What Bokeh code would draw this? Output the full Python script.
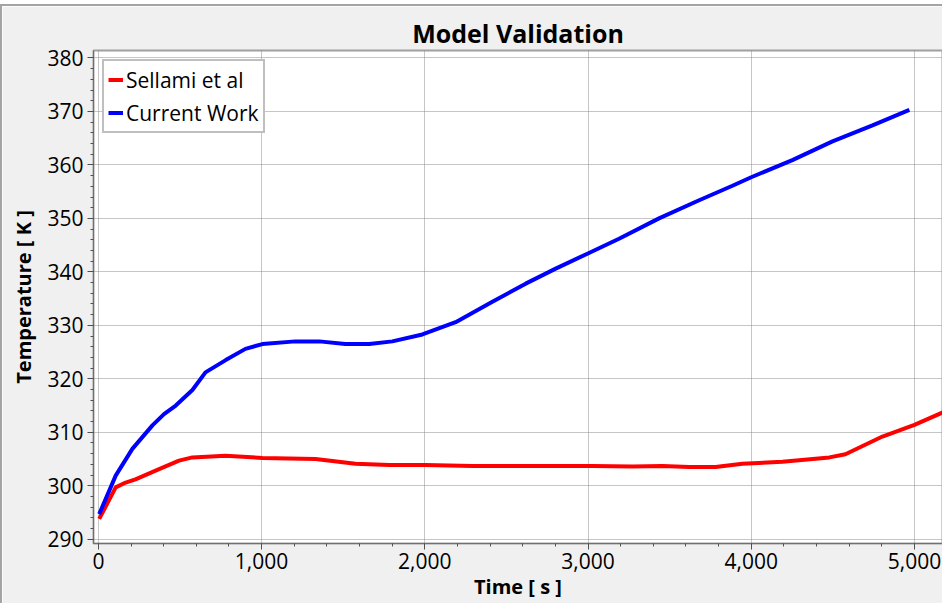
from bokeh.plotting import figure
from bokeh.models import Range1d, FixedTicker, NumeralTickFormatter, Legend, LegendItem, Spacer
from bokeh.layouts import column
from bokeh.embed import file_html
from bokeh.resources import INLINE

# ---- data ----
time_sellami = [5, 106, 167, 227, 372, 494, 576, 778, 1005, 1330, 1575, 1783, 2003, 2292,
                2700, 3027, 3272, 3456, 3620, 3781, 3946, 4191, 4479, 4577, 4804, 5000, 5180]
temp_sellami = [293.8, 299.7, 300.6, 301.2, 303.1, 304.7, 305.3, 305.6, 305.2, 305.0, 304.1,
                303.9, 303.9, 303.7, 303.7, 303.7, 303.6, 303.7, 303.5, 303.5, 304.1, 304.5,
                305.3, 305.9, 309.2, 311.4, 313.8]

time_current = [5, 106, 208, 331, 402, 474, 576, 656, 780, 901, 1005, 1207, 1354, 1513, 1660,
                1801, 1985, 2189, 2414, 2618, 2802, 2996, 3190, 3435, 3681, 3885, 4000, 4252,
                4498, 4743, 4969]
temp_current = [294.7, 301.9, 306.9, 311.3, 313.4, 315.0, 317.9, 321.2, 323.5, 325.6, 326.5,
                327.0, 327.0, 326.5, 326.5, 327.0, 328.3, 330.6, 334.4, 337.8, 340.6, 343.4,
                346.2, 350.0, 353.4, 356.1, 357.7, 360.9, 364.4, 367.4, 370.3]

x_ticks = [0, 1000, 2000, 3000, 4000, 5000]
x_minor = [v for v in range(-200, 5400, 200)]
y_ticks = [290, 300, 310, 320, 330, 340, 350, 360, 370, 380]
y_minor = [v for v in range(288, 384, 2)]

FONT = "Open Sans"

p = figure(width=942, height=599, output_backend="svg", toolbar_location=None,
           x_range=Range1d(-30, 5172), y_range=Range1d(289.2, 381.4),
           min_border_left=91, min_border_right=2, min_border_top=44, min_border_bottom=62,
           border_fill_color="#f0f0f0", background_fill_color="white",
           outline_line_color="#a0a0a0", outline_line_width=2)
p.styles = {"border-top": "2px solid #a4a4a4", "border-left": "2px solid #a4a4a4"}

p.title.text = "Model Validation"
p.title.align = "center"
p.title.text_font = FONT
p.title.text_font_size = "25px"
p.title.text_font_style = "bold"
p.title.text_color = "black"
p.title.standoff = 2

for ax in (p.xaxis[0], p.yaxis[0]):
    ax.axis_line_color = "#707070"
    ax.axis_line_width = 1
    ax.major_tick_line_color = "#505050"
    ax.minor_tick_line_color = "#505050"
    ax.major_tick_out = 6
    ax.major_tick_in = 0
    ax.minor_tick_out = 3
    ax.minor_tick_in = 0
    ax.major_label_text_font = FONT
    ax.major_label_text_font_size = "21px"
    ax.major_label_text_color = "black"
    ax.axis_label_text_font = FONT
    ax.axis_label_text_font_size = "20px"
    ax.axis_label_text_font_style = "bold"
    ax.axis_label_text_color = "black"

p.xaxis[0].ticker = FixedTicker(ticks=x_ticks, minor_ticks=x_minor)
p.yaxis[0].ticker = FixedTicker(ticks=y_ticks, minor_ticks=y_minor)
p.xaxis[0].formatter = NumeralTickFormatter(format="0,0")
p.xaxis[0].axis_label = "Time [ s ]"
p.yaxis[0].axis_label = "Temperature [ K ]"
p.xaxis[0].major_label_standoff = 3
p.yaxis[0].major_label_standoff = 4
p.xaxis[0].axis_label_standoff = 1
p.yaxis[0].axis_label_standoff = 7

for g in (p.xgrid[0], p.ygrid[0]):
    g.grid_line_color = "#8c8c8c"
    g.grid_line_dash = "1 1"
    g.grid_line_width = 1
p.xgrid[0].ticker = FixedTicker(ticks=x_ticks)
p.ygrid[0].ticker = FixedTicker(ticks=y_ticks)

r1 = p.line(time_sellami, temp_sellami, line_color="#ff0000", line_width=4)
r2 = p.line(time_current, temp_current, line_color="#0000ff", line_width=4)

legend = Legend(items=[LegendItem(label="Sellami et al", renderers=[r1]),
                       LegendItem(label="Current Work", renderers=[r2])],
                location="top_left", margin=9, padding=4, spacing=4,
                label_text_font=FONT, label_text_font_size="21px", label_text_color="black",
                glyph_width=15, glyph_height=29, label_height=29, label_standoff=3,
                border_line_color="#808080", border_line_width=2,
                background_fill_color="white", background_fill_alpha=1.0)
p.add_layout(legend)

layout = column(Spacer(height=4, width=944), p, spacing=0)

open("out.html", "w").write(file_html(layout, INLINE))
